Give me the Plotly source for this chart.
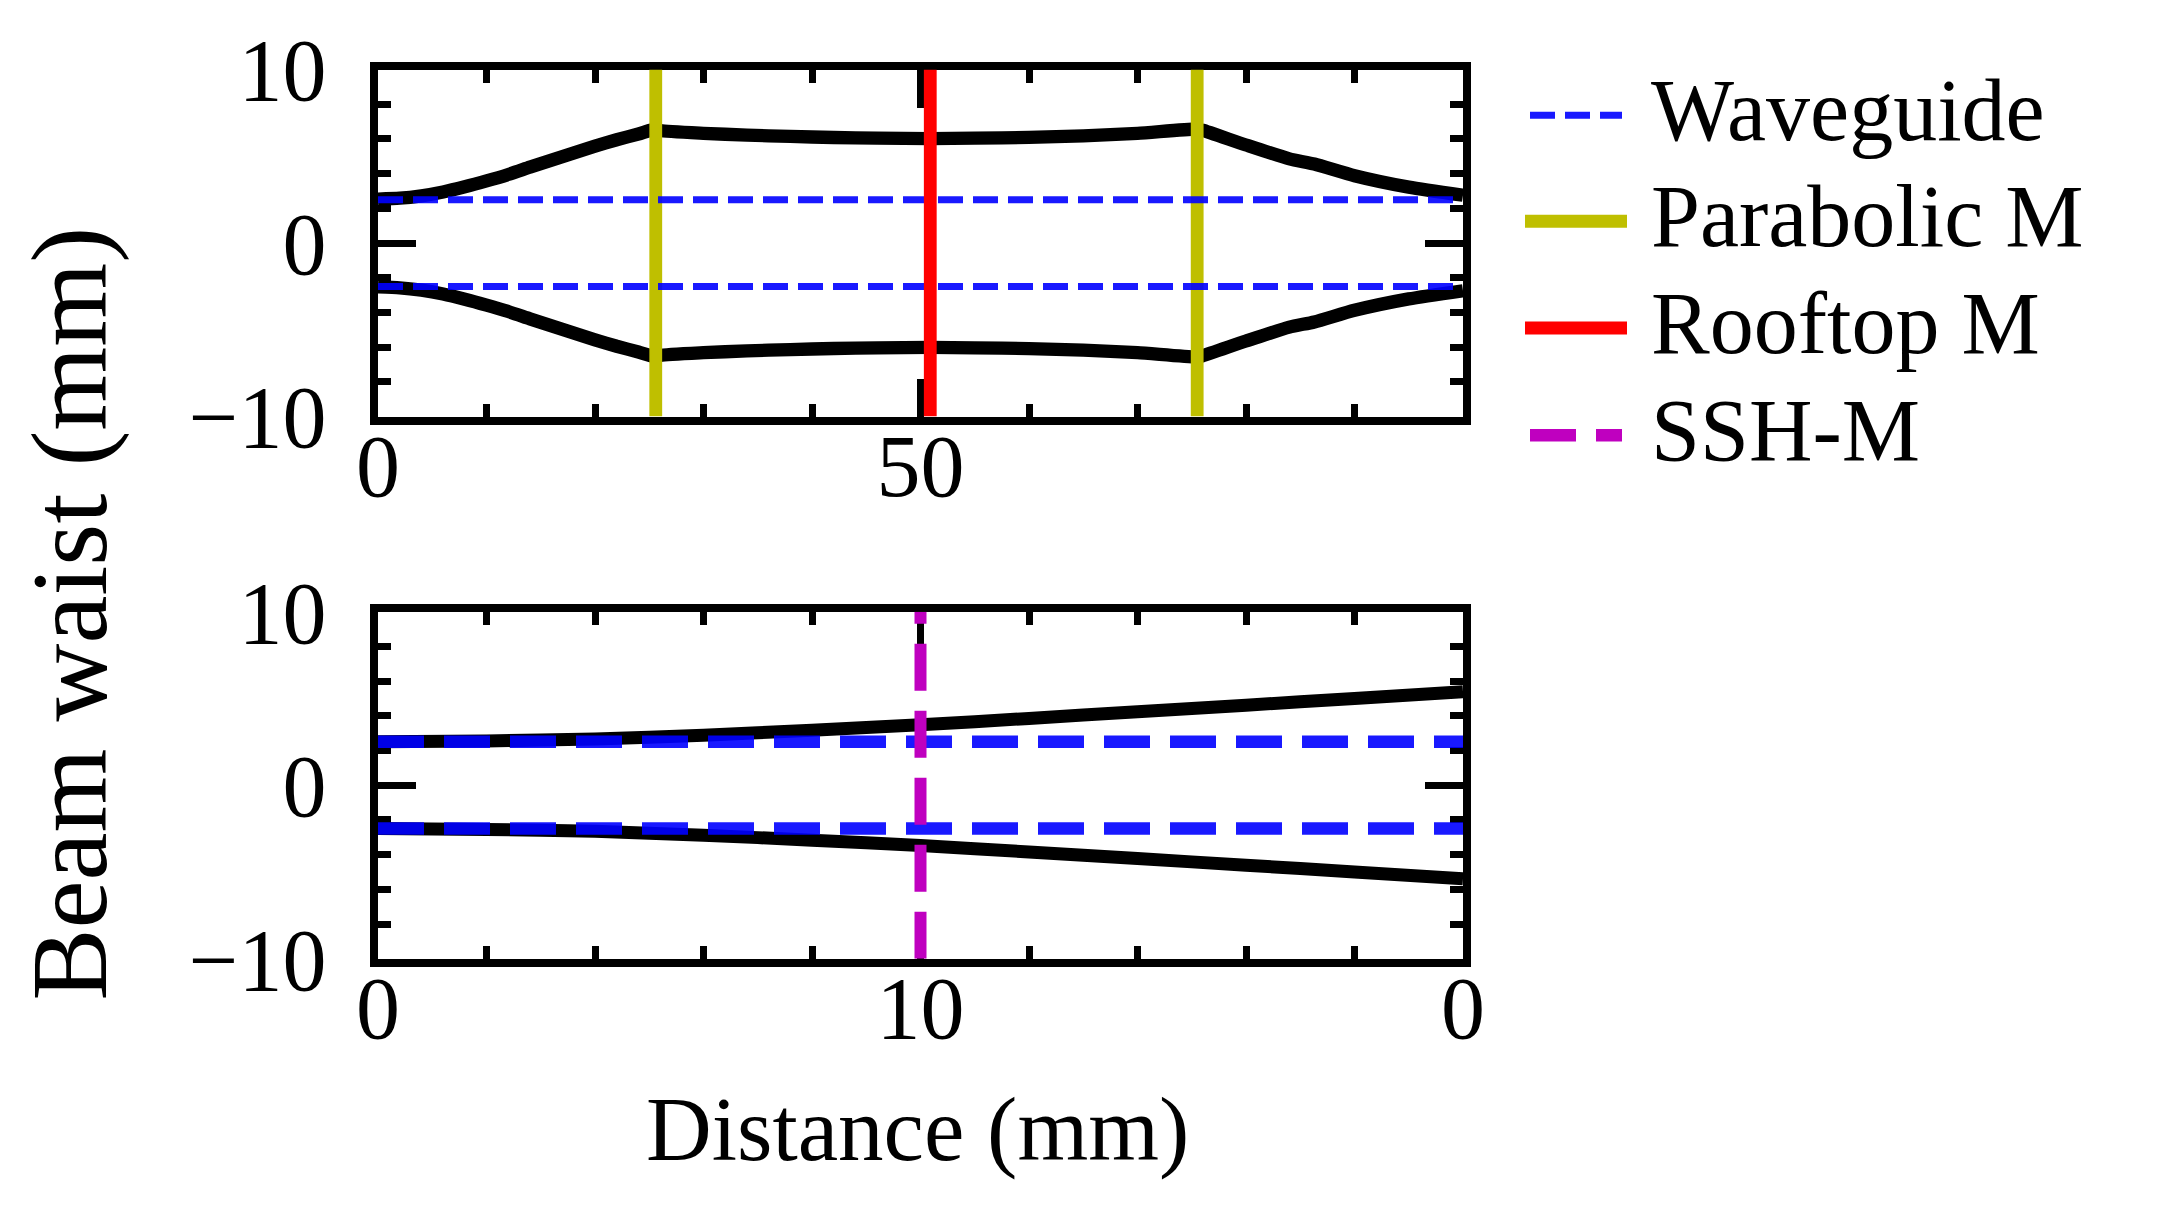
import plotly.graph_objects as go

# ---------------- data ----------------
# upper panel: beam radius along the path (mm)
top_x = [0, 2, 4, 6, 8, 10, 12, 14, 16, 18, 20, 22, 24, 25.6,
         26, 30, 34, 38, 42, 46, 50.9, 55, 60, 65, 70, 75.5,
         76, 80, 84, 86.3, 90, 95, 100]
top_w = [2.53, 2.58, 2.72, 2.94, 3.24, 3.58, 3.95, 4.37, 4.78, 5.18, 5.58, 5.95, 6.28, 6.57,
         6.48, 6.32, 6.22, 6.14, 6.08, 6.04, 6.02, 6.04, 6.09, 6.18, 6.32, 6.57,
         6.50, 5.65, 4.85, 4.55, 3.88, 3.22, 2.75]
top_waveguide = [2.5, -2.5]
parabolic_pos = [25.6, 75.5]
rooftop_pos = [50.9]
top_xrange = [0, 100]
top_xticks = [0, 50]
top_xticklabels = ["0", "50"]

# lower panel
bot_x = [0, 2, 4, 6, 8, 10, 12, 14, 16, 18, 20]
bot_w = [2.50, 2.55, 2.66, 2.88, 3.17, 3.48, 3.85, 4.23, 4.61, 5.00, 5.39]
bot_waveguide = [2.5, -2.5]
ssh_pos = [10]
bot_xrange = [0, 20]
bot_xticks = [0, 10, 20]
bot_xticklabels = ["0", "10", "0"]

y_range = [-10, 10]
y_ticks = [-10, 0, 10]

legend_names = ["Waveguide", "Parabolic M", "Rooftop M", "SSH-M"]

# ---------------- styles ----------------
FONT = "Liberation Serif, Times New Roman, serif"
BLUE = "rgba(0,0,255,0.9)"
YELLOW = "#BFBF00"
RED = "#FF0000"
MAGENTA = "#BF00BF"
W, H = 2164, 1209

legend_styles = [
    dict(color=BLUE, width=7, dash="25px,10px", x0=1522, x1=1614),
    dict(color=YELLOW, width=13, dash="solid", x0=1517, x1=1619),
    dict(color=RED, width=13, dash="solid", x0=1517, x1=1619),
    dict(color=MAGENTA, width=12.5, dash="46px,20px", x0=1522, x1=1614),
]
legend_ypix = [107.3, 213.3, 320.0, 427.3]
legend_text_x = 1641

fig = go.Figure()

curve_line = dict(color="black", width=13.3, shape="spline", smoothing=0.6)

# ---- top panel ----
fig.add_trace(go.Scatter(x=top_x, y=top_w, mode="lines", xaxis="x", yaxis="y",
                         line=curve_line, showlegend=False))
fig.add_trace(go.Scatter(x=top_x, y=[-v for v in top_w], mode="lines", xaxis="x", yaxis="y",
                         line=curve_line, showlegend=False))
for p in parabolic_pos:
    fig.add_trace(go.Scatter(x=[p, p], y=y_range, mode="lines", xaxis="x", yaxis="y",
                             line=dict(color=YELLOW, width=12.8), showlegend=False))
for wv in top_waveguide:
    fig.add_trace(go.Scatter(x=top_xrange, y=[wv, wv], mode="lines", xaxis="x", yaxis="y",
                             line=dict(color=BLUE, width=7, dash="25px,10px"), showlegend=False))
for p in rooftop_pos:
    fig.add_trace(go.Scatter(x=[p, p], y=y_range, mode="lines", xaxis="x", yaxis="y",
                             line=dict(color=RED, width=12.8), showlegend=False))

# ---- bottom panel ----
fig.add_trace(go.Scatter(x=bot_x, y=bot_w, mode="lines", xaxis="x2", yaxis="y2",
                         line=dict(color="black", width=13, shape="spline", smoothing=0.6),
                         showlegend=False))
fig.add_trace(go.Scatter(x=bot_x, y=[-v for v in bot_w], mode="lines", xaxis="x2", yaxis="y2",
                         line=dict(color="black", width=13, shape="spline", smoothing=0.6),
                         showlegend=False))
for wv in bot_waveguide:
    fig.add_trace(go.Scatter(x=bot_xrange, y=[wv, wv], mode="lines", xaxis="x2", yaxis="y2",
                             line=dict(color=BLUE, width=12.5, dash="46px,20px"), showlegend=False))
for p in ssh_pos:
    fig.add_trace(go.Scatter(x=[p, p], y=y_range, mode="lines", xaxis="x2", yaxis="y2",
                             line=dict(color=MAGENTA, width=12, dash="47px,20px"), showlegend=False))

# ---------------- axes ----------------
L, R = 370, 1455
top_T, top_B = 61.5, 408.5
bot_T, bot_B = 603.7, 950.7

def xaxis(rng, tickvals, ticktext, minor_dtick, anchor, domain_pix):
    return dict(domain=[domain_pix[0] / W, domain_pix[1] / W], range=rng, anchor=anchor,
                automargin=False,
                tickmode="array", tickvals=tickvals, ticktext=ticktext,
                ticks="inside", ticklen=38, tickwidth=7, tickcolor="black",
                showline=True, linewidth=8, linecolor="black", mirror="ticks",
                showgrid=False, zeroline=False, layer="below traces",
                tickfont=dict(family=FONT, size=88, color="black"),
                ticklabelstandoff=-34,
                minor=dict(tickmode="linear", tick0=0, dtick=minor_dtick, ticks="inside",
                           ticklen=13, tickwidth=7, tickcolor="black", showgrid=False))

def yaxis(anchor, T, B):
    return dict(domain=[1 - B / H, 1 - T / H], range=y_range, anchor=anchor,
                automargin=False,
                tickmode="array", tickvals=y_ticks,
                ticks="inside", ticklen=38, tickwidth=7, tickcolor="black",
                showline=True, linewidth=8, linecolor="black", mirror="ticks",
                showgrid=False, zeroline=False, layer="below traces",
                tickfont=dict(family=FONT, size=88, color="black"),
                ticklabelstandoff=26,
                minor=dict(tickmode="linear", tick0=0, dtick=2, ticks="inside",
                           ticklen=13, tickwidth=7, tickcolor="black", showgrid=False))

annotations = []
shapes = []
for name, st, yp in zip(legend_names, legend_styles, legend_ypix):
    shapes.append(dict(type="line", xref="paper", yref="paper",
                       x0=st["x0"] / W, x1=st["x1"] / W, y0=1 - yp / H, y1=1 - yp / H,
                       line=dict(color=st["color"], width=st["width"], dash=st["dash"])))
    annotations.append(dict(text=name, xref="paper", yref="paper", x=legend_text_x / W,
                            y=1 - (yp - 5) / H, xanchor="left", yanchor="middle", showarrow=False,
                            font=dict(family=FONT, size=88, color="black")))

annotations.append(dict(text="Distance (mm)", xref="paper", yref="paper", x=909 / W,
                        y=1 - 1121 / H, xanchor="center", yanchor="middle", showarrow=False,
                        font=dict(family=FONT, size=91, color="black")))
annotations.append(dict(text="Beam waist (mm)", xref="paper", yref="paper", x=61 / W,
                        y=1 - 605.5 / H, xanchor="center", yanchor="middle", showarrow=False,
                        textangle=-90, font=dict(family=FONT, size=108, color="black")))

fig.update_layout(
    width=W, height=H,
    margin=dict(l=0, r=0, t=0, b=0, autoexpand=False),
    paper_bgcolor="white", plot_bgcolor="white",
    showlegend=False,
    xaxis=xaxis(top_xrange, top_xticks, top_xticklabels, 10, "y", (L, R)),
    yaxis=yaxis("x", top_T, top_B),
    xaxis2=xaxis(bot_xrange, bot_xticks, bot_xticklabels, 2, "y2", (L, R)),
    yaxis2=yaxis("x2", bot_T, bot_B),
    shapes=shapes,
    annotations=annotations,
)

fig.write_html("out.html")
